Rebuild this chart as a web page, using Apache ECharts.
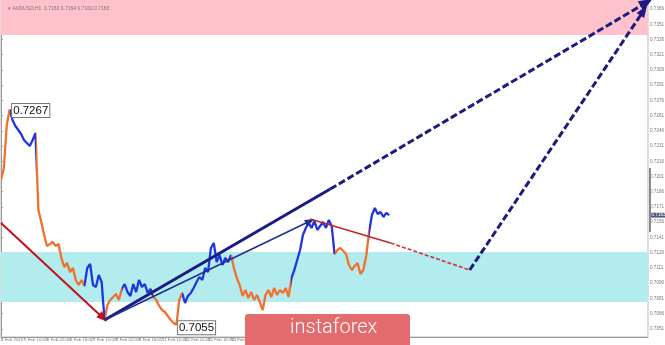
<!DOCTYPE html>
<html><head><meta charset="utf-8">
<script src="https://cdn.jsdelivr.net/npm/echarts@6/dist/echarts.min.js"></script>
<style>html,body{margin:0;padding:0;background:#fff}#c{width:665px;height:345px}</style>
</head><body><div id="c"></div>
<script>
// H1 bar index (every 2nd bar) and price
const barStep = 2;
const prices = [
0.71976,0.72094,0.72517,0.72670,0.72567,0.72508,0.72468,0.72429,0.72370,0.72340,
0.72311,0.72370,0.72439,0.71680,0.71562,0.71434,0.71326,0.71345,0.71365,0.71326,
0.71345,0.71207,0.71119,0.71158,0.71069,0.71109,0.70991,0.70941,0.70991,0.70932,
0.71109,0.71148,0.70941,0.70922,0.71040,0.70971,0.70597,0.70744,0.70794,0.70823,
0.70853,0.70794,0.70902,0.70951,0.70872,0.70833,0.70951,0.70872,0.70991,0.70922,
0.70951,0.70863,0.70902,0.70823,0.70794,0.70735,0.70695,0.70675,0.70636,0.70597,
0.70567,0.70550,0.70794,0.70863,0.70764,0.70833,0.70863,0.70912,0.70971,0.71020,
0.70991,0.71109,0.71069,0.71306,0.71355,0.71168,0.71237,0.71138,0.71207,0.71168,
0.71237,0.71109,0.71010,0.70941,0.70833,0.70892,0.70813,0.70872,0.70794,0.70843,
0.70774,0.70695,0.70843,0.70892,0.70823,0.70912,0.70843,0.70892,0.70863,0.70912,
0.70823,0.71010,0.71089,0.71188,0.71286,0.71434,0.71503,0.71552,0.71503,0.71572,
0.71483,0.71523,0.71562,0.71503,0.71582,0.71523,0.71247,0.71286,0.71306,0.71276,
0.71247,0.71138,0.71089,0.71129,0.71158,0.71050,0.71089,0.71227,0.71463,0.71631,
0.71700,0.71641,0.71660,0.71611,0.71651,0.71630
];
// wave colour changes (bar index), starting with a down (orange) wave
const waveBreaks = [6,24,58,72,84,106,126,160,202,232,256];
const xTickValues = [0,16,32,48,64,80,96,112,128,144,160,176,192,208,224,240,256];
const xTickLabels = ["4 Feb 2019","5 Feb 10:00","6 Feb 02:00","6 Feb 18:00","7 Feb 10:00","8 Feb 02:00","8 Feb 18:00","11 Feb 10:00","12 Feb 02:00","12 Feb 18:00","13 Feb 10:00","14 Feb 02:00","14 Feb 18:00","15 Feb 10:00","18 Feb 02:00","18 Feb 18:00","19 Feb 10:00"];
const yTickValues = [0.7051,0.7066,0.7081,0.7096,0.7111,0.7126,0.7141,0.7156,0.7171,0.7186,0.7201,0.7216,0.7231,0.7246,0.7261,0.7276,0.7291,0.7306,0.7321,0.7336,0.7351,0.7366];
const resistanceZone = [0.73404, 0.7380];
const supportZone = [0.70773, 0.71266];
const peakLabel = [6, 0.7267];
const lowLabel = [122, 0.7055];
const lastPrice = 0.7163;
// analyst arrows: [barIndex, price] start and end
const arrowDown = [[0, 0.71552], [71, 0.70616]];
const arrowUpThin = [[72, 0.70596], [215, 0.71571]];
const arrowLongSolid = [[72, 0.70596], [229, 0.71887]];
const arrowLongDashed = [[229, 0.71887], [449, 0.73725]];
const corrSolid = [[215, 0.71591], [271, 0.71355]];
const corrDashed = [[271, 0.71355], [326, 0.71089]];
const arrowFinal = [[326, 0.71089], [447, 0.73645]];

const ORANGE = '#f0702c', BLUE = '#1f35e0', NAVY = '#1b1b80', RED = '#c1121c';
const priceData = prices.map((p, k) => [k * barStep, p]);
const pieces = [];
let prev = 0;
waveBreaks.concat([1000]).forEach((b, i) => {
  pieces.push({gte: prev, lt: b, color: i % 2 === 0 ? ORANGE : BLUE});
  prev = b;
});

function seg(pts, style, endSymbol, size) {
  return [
    {coord: pts[0], symbol: 'none', lineStyle: style},
    {coord: pts[1], symbol: endSymbol || 'none', symbolSize: size || 10}
  ];
}
const FONT = 'Liberation Sans';
const chart = echarts.init(document.getElementById('c'));
chart.setOption({
  animation: false,
  backgroundColor: '#fff',
  title: {text: '\u25BE AUDUSD,H1  0.7163 0.7164 0.7160 0.7163', left: 3, top: 1,
    textStyle: {fontSize: 5, color: '#777', fontWeight: 'normal', fontFamily: FONT}},
  grid: {left: 1, right: 17, top: 0, bottom: 8, show: true, borderColor: '#bbb', borderWidth: 1,
    containLabel: false, outerBoundsMode: 'none'},
  xAxis: {type: 'value', min: 0, max: 450,
    axisLine: {show: true, lineStyle: {color: '#999'}},
    axisTick: {show: true, length: 2, lineStyle: {color: '#999'}, customValues: xTickValues},
    axisLabel: {fontSize: 4.4, color: '#777', align: 'left', margin: 1, fontFamily: FONT,
      showMinLabel: true, hideOverlap: false, customValues: xTickValues,
      formatter: v => xTickLabels[xTickValues.indexOf(v)] || ''},
    splitLine: {show: false}},
  yAxis: {type: 'value', position: 'right', min: 0.70429, max: 0.73749, scale: true,
    axisLine: {show: true, lineStyle: {color: '#999'}},
    axisTick: {show: true, length: 2, lineStyle: {color: '#999'}, customValues: yTickValues},
    axisLabel: {fontSize: 4.6, color: '#777', margin: 2, fontFamily: FONT, hideOverlap: false,
      customValues: yTickValues, formatter: v => v.toFixed(4)},
    splitLine: {show: false}},
  visualMap: {type: 'piecewise', show: false, dimension: 0, seriesIndex: 1, pieces: pieces},
  series: [
    {type: 'line', name: 'zones', data: [], silent: true,
      markArea: {silent: true, data: [
        [{yAxis: resistanceZone[0], itemStyle: {color: '#ffc1cc'}}, {yAxis: resistanceZone[1]}],
        [{yAxis: supportZone[0], itemStyle: {color: '#b3ecee'}}, {yAxis: supportZone[1]}]
      ]}},
    {type: 'line', name: 'price', data: priceData, showSymbol: false, symbol: 'none',
      lineStyle: {width: 2.3}, z: 3},
    {type: 'line', name: 'arrows', data: [], silent: true,
      markLine: {silent: true, symbol: ['none', 'none'], label: {show: false},
        emphasis: {disabled: true},
        data: [
          seg(arrowDown, {color: RED, width: 2, type: 'solid'}, 'triangle', [8, 11]),
          seg(arrowLongSolid, {color: NAVY, width: 3, type: 'solid'}),
          seg(arrowLongDashed, {color: NAVY, width: 3, type: [7, 3]}, 'triangle', [11, 14]),
          seg(arrowUpThin, {color: '#22308f', width: 1.6, type: 'solid'}, 'triangle', [7, 10]),
          seg(corrSolid, {color: '#c0262b', width: 1.6, type: 'solid'}),
          seg(corrDashed, {color: '#cf3535', width: 1.6, type: [4, 2]}),
          seg(arrowFinal, {color: NAVY, width: 3, type: [7, 3]}, 'triangle', [9, 12])
        ]},
      markPoint: {silent: true, symbol: 'circle', symbolSize: 1, itemStyle: {color: 'rgba(0,0,0,0)'},
        data: [
          {coord: peakLabel, label: {show: true, formatter: peakLabel[1].toFixed(4), position: 'right', distance: 2,
            fontSize: 11.5, color: '#111', fontFamily: FONT, backgroundColor: '#fff', borderColor: '#777', borderWidth: 1,
            padding: [1, 1, 0, 1], lineHeight: 12, offset: [0, 1]}},
          {coord: lowLabel, label: {show: true, formatter: lowLabel[1].toFixed(4), position: 'right', distance: 1,
            fontSize: 11.5, color: '#111', fontFamily: FONT, backgroundColor: '#fff', borderColor: '#777', borderWidth: 1,
            padding: [1, 1, 0, 1], lineHeight: 12, offset: [0, 3]}},
          {coord: [450, lastPrice], label: {show: true, formatter: lastPrice.toFixed(4), position: 'right', distance: 2,
            fontSize: 4.6, color: '#fff', fontFamily: FONT, backgroundColor: '#4e5d7a', padding: [0, 1]}}
        ]}}
  ],
  graphic: [
    {type: 'rect', left: 649, top: 168, shape: {width: 2, height: 64}, style: {fill: '#8a8a8a'}, z: 50},
    {type: 'rect', left: 245, top: 314, shape: {width: 165, height: 34, r: 3}, style: {fill: '#e36b6d'}, z: 100},
    {type: 'text', left: 290, top: 318, z: 101,
      style: {text: 'instaforex', fill: '#fff', fontSize: 20, fontFamily: 'Roboto', fontWeight: 300}}
  ]
});
</script></body></html>
